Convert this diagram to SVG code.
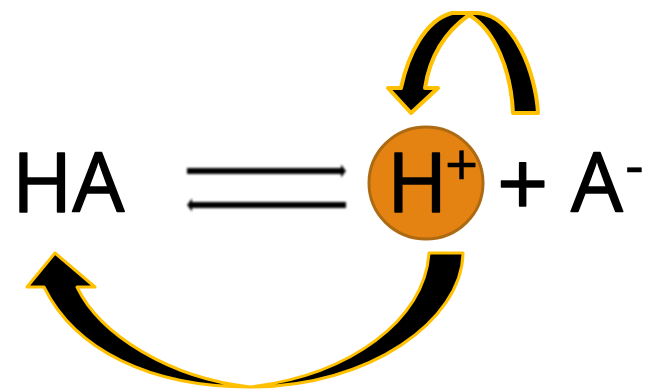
<svg xmlns="http://www.w3.org/2000/svg" width="649" height="389" viewBox="0 0 649 389">
<style>
text{font-family:"Open Sans","Liberation Sans",sans-serif;fill:#000;stroke:#000;stroke-width:1.500;stroke-linejoin:round}
.big{font-size:82px}
.plus{font-size:90px}
.sup{font-size:58px;stroke-width:.5px}
.curve{fill:#000;stroke:#FFC000;stroke-width:3;stroke-linejoin:round}
.top{stroke-width:4}
.eq{fill:#000;filter:url(#soft)}
</style>
<defs><filter id="soft" x="-5%" y="-50%" width="110%" height="200%"><feGaussianBlur stdDeviation="1"/></filter></defs>
<rect width="649" height="389" fill="#fff"/>
<g id="connectors">
<path class="curve top" d="M538 113C536 75 515 15 477 13H452C425 20 408 55 401 88H388L411 113L438 88H425C430 55 445 32 469 15C495 30 511 70 513 113Z"/>
<path class="curve" d="M463 253C462 320 370 387 250 387C150 387 75 350 44 287H27L55 253L95 287H77C100 335 170 378 250 387C350 375 425 320 429 253Z"/>
<path class="eq" d="M187 168H341V164.500L346 171L341 177.500V174H187Z"/>
<path class="eq" d="M346 202H192V198.500L187 205L192 211.500V208H346Z"/>
</g>
<g id="node-ha"><text class="big" x="12" y="212">HA</text></g>
<g id="node-h">
<ellipse cx="426" cy="183" rx="57" ry="56" fill="#E48312" stroke="#AD6A12" stroke-width="3"/>
<text class="big" x="387" y="212">H</text>
<text class="sup" x="445" y="186">+</text>
</g>
<g id="node-plus"><text class="plus" x="497" y="216">+</text></g>
<g id="node-a"><text class="big" x="571" y="212">A</text><text class="sup" x="625" y="186">-</text></g>
</svg>
